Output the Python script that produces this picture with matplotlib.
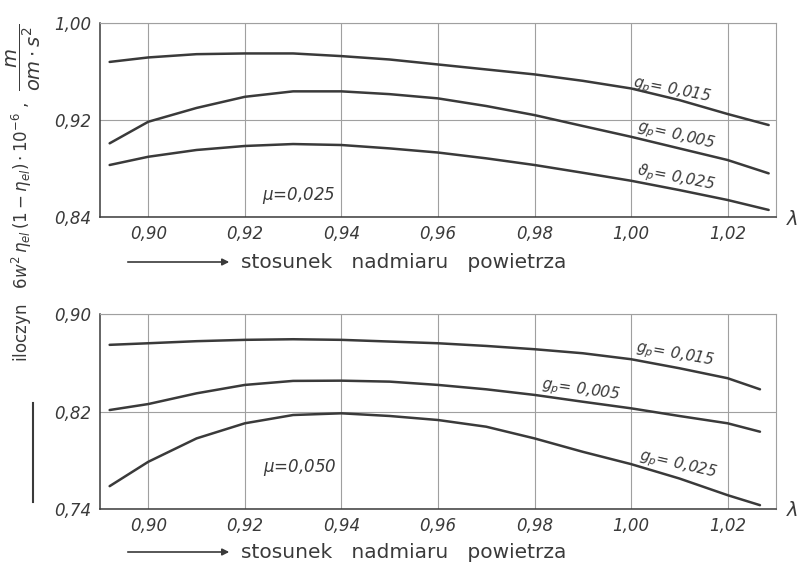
import matplotlib.pyplot as plt
from matplotlib.patches import FancyArrowPatch
from matplotlib.lines import Line2D

# wspolczynnik nadmiaru powietrza lambda (odczytane punkty)
lam_top = [0.892, 0.90, 0.91, 0.92, 0.93, 0.94, 0.95, 0.96, 0.97, 0.98, 0.99, 1.00, 1.01, 1.02, 1.0285]
# mu = 0,025
top_g015 = [0.968, 0.9717, 0.9744, 0.975, 0.975, 0.9728, 0.970, 0.9659, 0.9618, 0.9577, 0.9524, 0.9461, 0.9365, 0.925, 0.9159]
top_g005 = [0.9008, 0.9186, 0.930, 0.9392, 0.9437, 0.9437, 0.9414, 0.9379, 0.9316, 0.9241, 0.9151, 0.9062, 0.8966, 0.887, 0.876]
top_g025 = [0.8829, 0.8897, 0.8953, 0.8986, 0.9002, 0.8994, 0.8966, 0.8932, 0.8884, 0.8829, 0.8765, 0.8699, 0.8622, 0.854, 0.8458]

lam_bot = [0.892, 0.90, 0.91, 0.92, 0.93, 0.94, 0.95, 0.96, 0.97, 0.98, 0.99, 1.00, 1.01, 1.02, 1.0267]
# mu = 0,050
bot_g015 = [0.8748, 0.8761, 0.8778, 0.8789, 0.8794, 0.8789, 0.8775, 0.8761, 0.8739, 0.8712, 0.8679, 0.863, 0.8556, 0.8474, 0.8383]
bot_g005 = [0.8213, 0.8262, 0.835, 0.8419, 0.8452, 0.8454, 0.8446, 0.8419, 0.8383, 0.8337, 0.8281, 0.8227, 0.8164, 0.8104, 0.8035]
bot_g025 = [0.7588, 0.7788, 0.798, 0.8104, 0.8172, 0.8186, 0.8164, 0.8131, 0.8076, 0.798, 0.787, 0.7769, 0.7651, 0.7514, 0.7432]

xticks = [0.90, 0.92, 0.94, 0.96, 0.98, 1.00, 1.02]
xtick_labels = ['0,90', '0,92', '0,94', '0,96', '0,98', '1,00', '1,02']
top_yticks = [0.84, 0.92, 1.00]
top_ylabels = ['0,84', '0,92', '1,00']
bot_yticks = [0.74, 0.82, 0.90]
bot_ylabels = ['0,74', '0,82', '0,90']

ink = '#3a3a3a'
plt.rcParams['font.family'] = ['DejaVu Sans']

fig = plt.figure(figsize=(7.98, 5.65), dpi=100)
ax1 = fig.add_axes([0.1253, 0.616, 0.847, 0.343])
ax2 = fig.add_axes([0.1253, 0.099, 0.847, 0.345])


def styl(ax, yt, yl, ylim):
    ax.set_xlim(0.89, 1.03)
    ax.set_ylim(*ylim)
    ax.set_xticks(xticks)
    ax.set_xticklabels(xtick_labels, fontsize=12, style='italic', color=ink)
    ax.set_yticks(yt)
    ax.set_yticklabels(yl, fontsize=12, style='italic', color=ink)
    ax.tick_params(length=0, pad=6)
    ax.grid(True, color='#a0a0a0', linewidth=0.8)
    for s in ['left', 'bottom']:
        ax.spines[s].set_color(ink)
        ax.spines[s].set_linewidth(1.1)
    for s in ['top', 'right']:
        ax.spines[s].set_color('#a0a0a0')
        ax.spines[s].set_linewidth(0.8)
    ax.set_axisbelow(True)


styl(ax1, top_yticks, top_ylabels, (0.84, 1.00))
styl(ax2, bot_yticks, bot_ylabels, (0.74, 0.90))

for y in [top_g015, top_g005, top_g025]:
    ax1.plot(lam_top, y, color=ink, linewidth=1.8, solid_capstyle='round')
for y in [bot_g015, bot_g005, bot_g025]:
    ax2.plot(lam_bot, y, color=ink, linewidth=1.8, solid_capstyle='round')

lab = dict(fontsize=11, style='italic', color=ink, ha='center', va='center')
ax1.text(1.0085, 0.9445, '$g_p$= 0,015', rotation=-11, **lab)
ax1.text(1.0094, 0.9068, '$g_p$= 0,005', rotation=-13, **lab)
ax1.text(1.0092, 0.8722, '$\\vartheta_p$= 0,025', rotation=-11, **lab)
ax1.text(0.9312, 0.8581, '$\\mu$=0,025', fontsize=12, style='italic', color=ink, ha='center', va='center')

ax2.text(1.009, 0.8665, '$g_p$= 0,015', rotation=-10, **lab)
ax2.text(0.9895, 0.8378, '$g_p$= 0,005', rotation=-8, **lab)
ax2.text(1.0098, 0.7761, '$g_p$= 0,025', rotation=-13, **lab)
ax2.text(0.9314, 0.7745, '$\\mu$=0,050', fontsize=12, style='italic', color=ink, ha='center', va='center')

# lambda przy koncu osi
fig.text(792 / 798, 1 - 220 / 565, '$\\lambda$', fontsize=14, color=ink, ha='center', va='center')
fig.text(792 / 798, 1 - 511 / 565, '$\\lambda$', fontsize=14, color=ink, ha='center', va='center')

# opis osi x ze strzalka
for yy in [262, 552]:
    fy = 1 - yy / 565
    fig.patches.append(FancyArrowPatch(
        (125 / 798, fy), (232 / 798, fy), transform=fig.transFigure,
        arrowstyle='-|>', mutation_scale=10, color=ink, linewidth=1.2))
    fig.text(241 / 798, fy, 'stosunek   nadmiaru   powietrza', fontsize=14.5,
             color=ink, ha='left', va='center')

# opis osi y
fig.text(22 / 798, 1 - 232 / 565,
         'iloczyn   $6w^2\\,\\eta_{el}\\,(1-\\eta_{el})\\cdot10^{-6}$ ,',
         rotation=90, fontsize=12, color=ink, ha='center', va='center')
fig.text(24 / 798, 1 - 57 / 565, '$\\dfrac{m}{om\\cdot s^2}$',
         rotation=90, fontsize=14, color=ink, ha='center', va='center')
fig.lines.append(Line2D([33 / 798, 33 / 798], [1 - 502 / 565, 1 - 403 / 565],
                        transform=fig.transFigure, color=ink, linewidth=1.5))

fig.savefig('out.png', dpi=100)
